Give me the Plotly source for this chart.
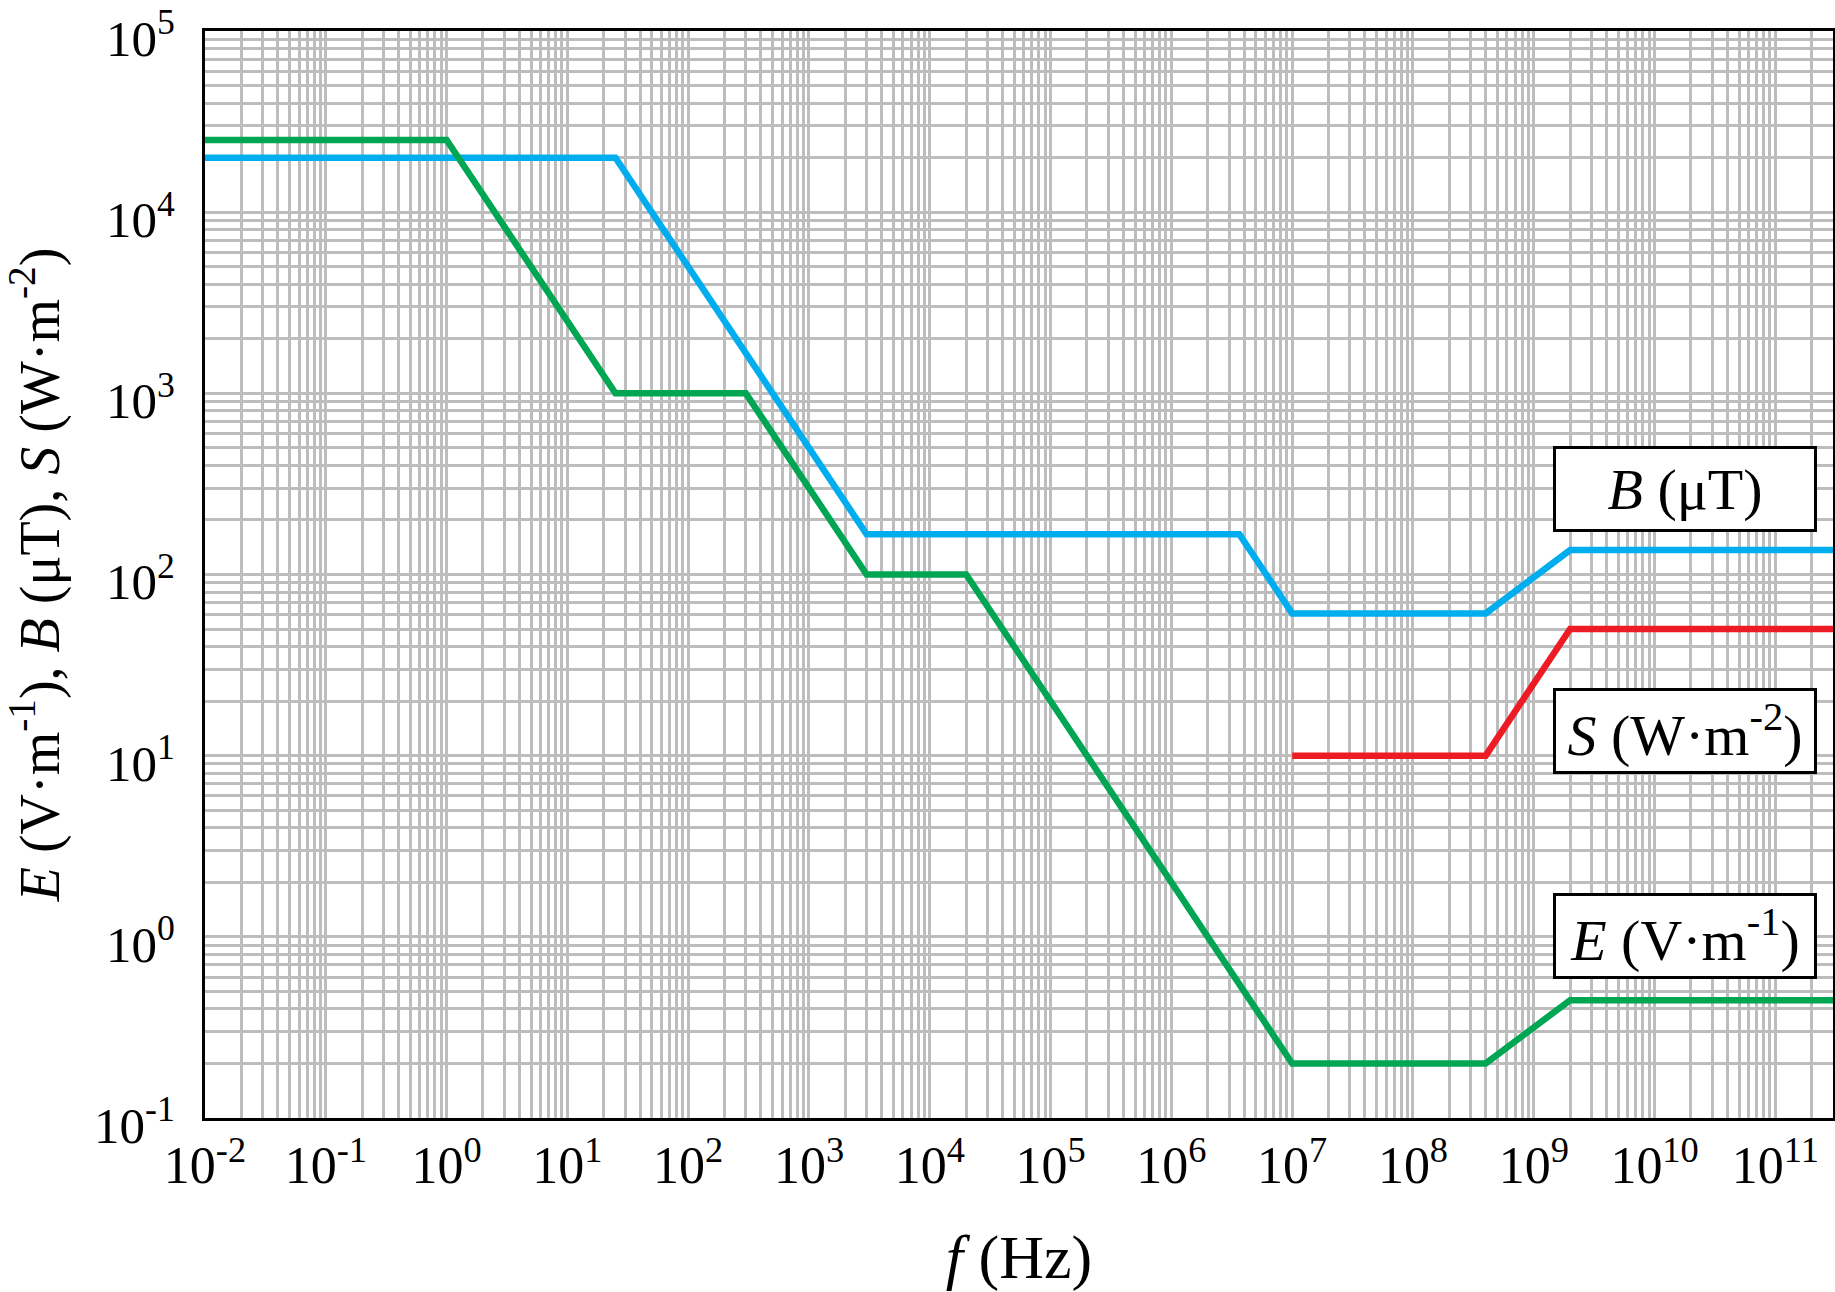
import numpy as np
import plotly.graph_objects as go

# Reference levels versus frequency (log-log)
freq_E = [1e-2, 1, 25, 300, 3e3, 2e4, 1e7, 4e8, 2e9, 3e11]
E_vals = [2.5e4, 2.5e4, 1000, 1000, 100, 100, 0.2, 0.2, 0.447, 0.447]

freq_B = [1e-2, 25, 3e3, 3.65e6, 1e7, 4e8, 2e9, 3e11]
B_vals = [2e4, 2e4, 166.7, 166.7, 61, 61, 136.4, 136.4]

freq_S = [1e7, 4e8, 2e9, 3e11]
S_vals = [10, 10, 50, 50]

x_decades = list(range(-2, 12))
y_decades = list(range(-1, 6))

FONT = "Liberation Serif"
GRID = "#BDBDBD"

def power_label(k):
    return f"10<sup>{k}</sup>"

def minor_values(decades):
    vals = []
    for k in decades:
        for m in range(2, 10):
            vals.append(m * 10.0 ** k)
    return vals

fig = go.Figure()
fig.add_trace(go.Scatter(x=freq_B, y=B_vals, mode="lines",
                         line=dict(color="#00AEEF", width=6.5), showlegend=False))
fig.add_trace(go.Scatter(x=freq_S, y=S_vals, mode="lines",
                         line=dict(color="#ED1C24", width=6.5), showlegend=False))
fig.add_trace(go.Scatter(x=freq_E, y=E_vals, mode="lines",
                         line=dict(color="#00A651", width=6.5), showlegend=False))

axis_common = dict(
    showline=True, mirror=True, linecolor="black", linewidth=3,
    showgrid=True, gridcolor=GRID, gridwidth=2.5,
    ticks="", zeroline=False, automargin=False,
    ticklabeloverflow="allow",
)

fig.update_xaxes(
    type="log", range=[-2, np.log10(3e11)],
    tickmode="array",
    tickvals=[10.0 ** k for k in x_decades],
    ticktext=[power_label(k) for k in x_decades],
    tickfont=dict(family=FONT, size=52, color="black"),
    minor=dict(tickmode="array", tickvals=minor_values(range(-2, 12)),
               showgrid=True, gridcolor=GRID, gridwidth=2.5, ticks=""),
    ticklabelstandoff=0,
    title=dict(text="<i>f</i> (Hz)", font=dict(family=FONT, size=62, color="black"),
               standoff=50),
    **axis_common,
)
fig.update_yaxes(
    type="log", range=[-1, 5],
    tickmode="array",
    tickvals=[10.0 ** k for k in y_decades],
    ticktext=[power_label(k) for k in y_decades],
    tickfont=dict(family=FONT, size=51, color="black"),
    minor=dict(tickmode="array", tickvals=minor_values(range(-1, 5)),
               showgrid=True, gridcolor=GRID, gridwidth=2.5, ticks=""),
    ticklabelstandoff=17,
    ticklabelshift=7,
    title=dict(text="<i>E</i> (V·m<sup>-1</sup>), <i>B</i> (μT), <i>S</i> (W·m<sup>-2</sup>)",
               font=dict(family=FONT, size=56, color="black"), standoff=28),
    **axis_common,
)

# Boxed series labels
box_labels = [
    ("<i>B</i> (μT)", 0.579),
    ("<i>S</i> (W·m<sup>-2</sup>)", 0.356),
    ("<i>E</i> (V·m<sup>-1</sup>)", 0.1674),
]
for text, ypos in box_labels:
    fig.add_annotation(
        x=0.9088, y=ypos, xref="paper", yref="paper",
        text=text, showarrow=False,
        font=dict(family=FONT, size=58, color="black"),
        bgcolor="white", bordercolor="black", borderwidth=3, borderpad=0,
        width=258, height=80, xanchor="center", yanchor="middle",
    )

fig.update_layout(
    width=1835, height=1292,
    margin=dict(l=205, r=2, t=31, b=174),
    paper_bgcolor="white", plot_bgcolor="white",
    font=dict(family=FONT, color="black"),
)

fig.write_html("out.html")
